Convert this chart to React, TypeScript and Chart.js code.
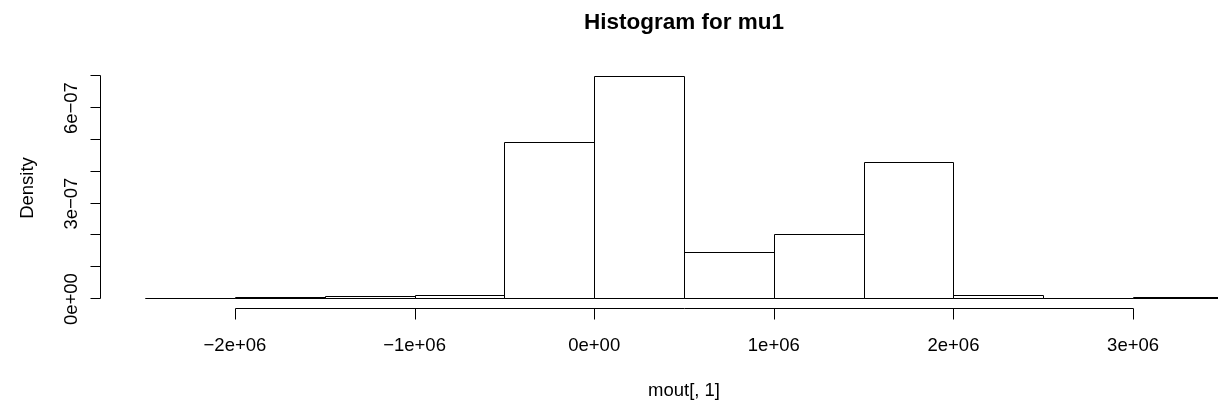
import React, { useEffect, useRef } from "react";
import { Chart, registerables } from "chart.js";

Chart.register(...registerables);

// Histogram breaks (bin edges) and densities
const breaks = [
  -2500000, -2000000, -1500000, -1000000, -500000, 0, 500000, 1000000,
  1500000, 2000000, 2500000, 3000000, 3500000,
];
const density = [
  1e-9, 3e-9, 7e-9, 9e-9, 4.89e-7, 6.98e-7, 1.46e-7, 2.02e-7, 4.28e-7, 1.0e-8,
  0, 3e-9,
];

const xTicks = [-2000000, -1000000, 0, 1000000, 2000000, 3000000];
const xTickLabels = ["\u22122e+06", "\u22121e+06", "0e+00", "1e+06", "2e+06", "3e+06"];
const yTicks = [0, 1e-7, 2e-7, 3e-7, 4e-7, 5e-7, 6e-7, 7e-7];
const yLabelValues = [0, 3e-7, 6e-7];
const yTickLabels = ["0e+00", "3e\u221207", "6e\u221207"];

const titleText = "Histogram for mu1";
const xTitle = "mout[, 1]";
const yTitle = "Density";

const FONT = '"Liberation Sans", Arial, Helvetica, sans-serif';

const rAxesPlugin = {
  id: "rAxes",
  afterDatasetsDraw(chart: any) {
    const ctx = chart.ctx;
    const meta = chart.getDatasetMeta(0);
    ctx.save();
    ctx.strokeStyle = "#000";
    ctx.lineWidth = 1;
    meta.data.forEach((bar: any) => {
      const p = bar.getProps(["x", "y", "base", "width"], true);
      const l = Math.round(p.x - p.width / 2) + 0.5;
      const r = Math.round(p.x + p.width / 2) + 0.5;
      const t = Math.round(p.y) - 0.5;
      const b = Math.round(p.base) - 0.5;
      ctx.beginPath();
      ctx.moveTo(l, b);
      ctx.lineTo(l, t);
      ctx.lineTo(r, t);
      ctx.lineTo(r, b);
      ctx.closePath();
      ctx.stroke();
    });
    ctx.restore();
  },
  afterDraw(chart: any) {
    const ctx = chart.ctx;
    const xs = chart.scales.x;
    const ys = chart.scales.y;
    const area = chart.chartArea;
    ctx.save();
    ctx.strokeStyle = "#000";
    ctx.fillStyle = "#000";
    ctx.lineWidth = 1;

    // x axis
    const axY = Math.round(area.bottom) + 0.5;
    const x0 = Math.round(xs.getPixelForValue(xTicks[0])) + 0.5;
    const x1 = Math.round(xs.getPixelForValue(xTicks[xTicks.length - 1])) + 0.5;
    ctx.beginPath();
    ctx.moveTo(x0, axY);
    ctx.lineTo(x1, axY);
    xTicks.forEach((v) => {
      const px = Math.round(xs.getPixelForValue(v)) + 0.5;
      ctx.moveTo(px, axY);
      ctx.lineTo(px, axY + 11);
    });
    ctx.stroke();
    ctx.font = `18.5px ${FONT}`;
    ctx.textAlign = "center";
    ctx.textBaseline = "alphabetic";
    xTicks.forEach((v, i) => {
      ctx.fillText(xTickLabels[i], xs.getPixelForValue(v), 351);
    });

    // y axis
    const axX = Math.round(area.left) - 1.5;
    const y0 = Math.round(ys.getPixelForValue(yTicks[0])) - 0.5;
    const y1 = Math.round(ys.getPixelForValue(yTicks[yTicks.length - 1])) - 0.5;
    ctx.beginPath();
    ctx.moveTo(axX, y0);
    ctx.lineTo(axX, y1);
    yTicks.forEach((v) => {
      const py = Math.round(ys.getPixelForValue(v)) - 0.5;
      ctx.moveTo(axX, py);
      ctx.lineTo(axX - 10, py);
    });
    ctx.stroke();
    yLabelValues.forEach((v, i) => {
      const py = ys.getPixelForValue(v);
      ctx.save();
      ctx.translate(77, py);
      ctx.rotate(-Math.PI / 2);
      ctx.textAlign = "center";
      ctx.textBaseline = "alphabetic";
      ctx.fillText(yTickLabels[i], 0, 0);
      ctx.restore();
    });

    // axis titles
    ctx.textAlign = "center";
    ctx.fillText(xTitle, (area.left + area.right) / 2, 396);
    ctx.save();
    ctx.translate(33, (area.top + area.bottom) / 2);
    ctx.rotate(-Math.PI / 2);
    ctx.fillText(yTitle, 0, 0);
    ctx.restore();

    // main title
    ctx.font = `bold 22.5px ${FONT}`;
    ctx.fillText(titleText, (area.left + area.right) / 2, 29);
    ctx.restore();
  },
};

export default function App() {
  const ref = useRef<HTMLCanvasElement | null>(null);

  useEffect(() => {
    const canvas = ref.current;
    if (!canvas) return;
    const centers = density.map((_, i) => (breaks[i] + breaks[i + 1]) / 2);
    const maxD = Math.max(...density);
    const span = breaks[breaks.length - 1] - breaks[0];
    const chart = new Chart(canvas, {
      type: "bar",
      data: {
        datasets: [
          {
            data: centers.map((c, i) => ({ x: c, y: density[i] })),
            backgroundColor: "#ffffff",
            borderWidth: 0,
            barPercentage: 1,
            categoryPercentage: 1,
            inflateAmount: 0,
          } as any,
        ],
      },
      options: {
        responsive: false,
        animation: false,
        devicePixelRatio: 1,
        layout: { padding: { left: 102, right: 34, top: 68, bottom: 99 } },
        plugins: { legend: { display: false }, tooltip: { enabled: false }, title: { display: false } },
        scales: {
          x: {
            type: "linear",
            display: false,
            offset: false,
            min: breaks[0] - 0.04 * span,
            max: breaks[breaks.length - 1] + 0.04 * span,
          },
          y: {
            type: "linear",
            display: false,
            min: -0.04 * maxD,
            max: 1.04 * maxD,
          },
        },
      },
      plugins: [rAxesPlugin],
    });
    return () => chart.destroy();
  }, []);

  return (
    <div
      style={{
        position: "fixed",
        left: 0,
        top: 0,
        width: 1218,
        height: 407,
        overflow: "hidden",
        background: "#fff",
      }}
    >
      <canvas ref={ref} width={1300} height={407} style={{ display: "block" }} />
    </div>
  );
}
